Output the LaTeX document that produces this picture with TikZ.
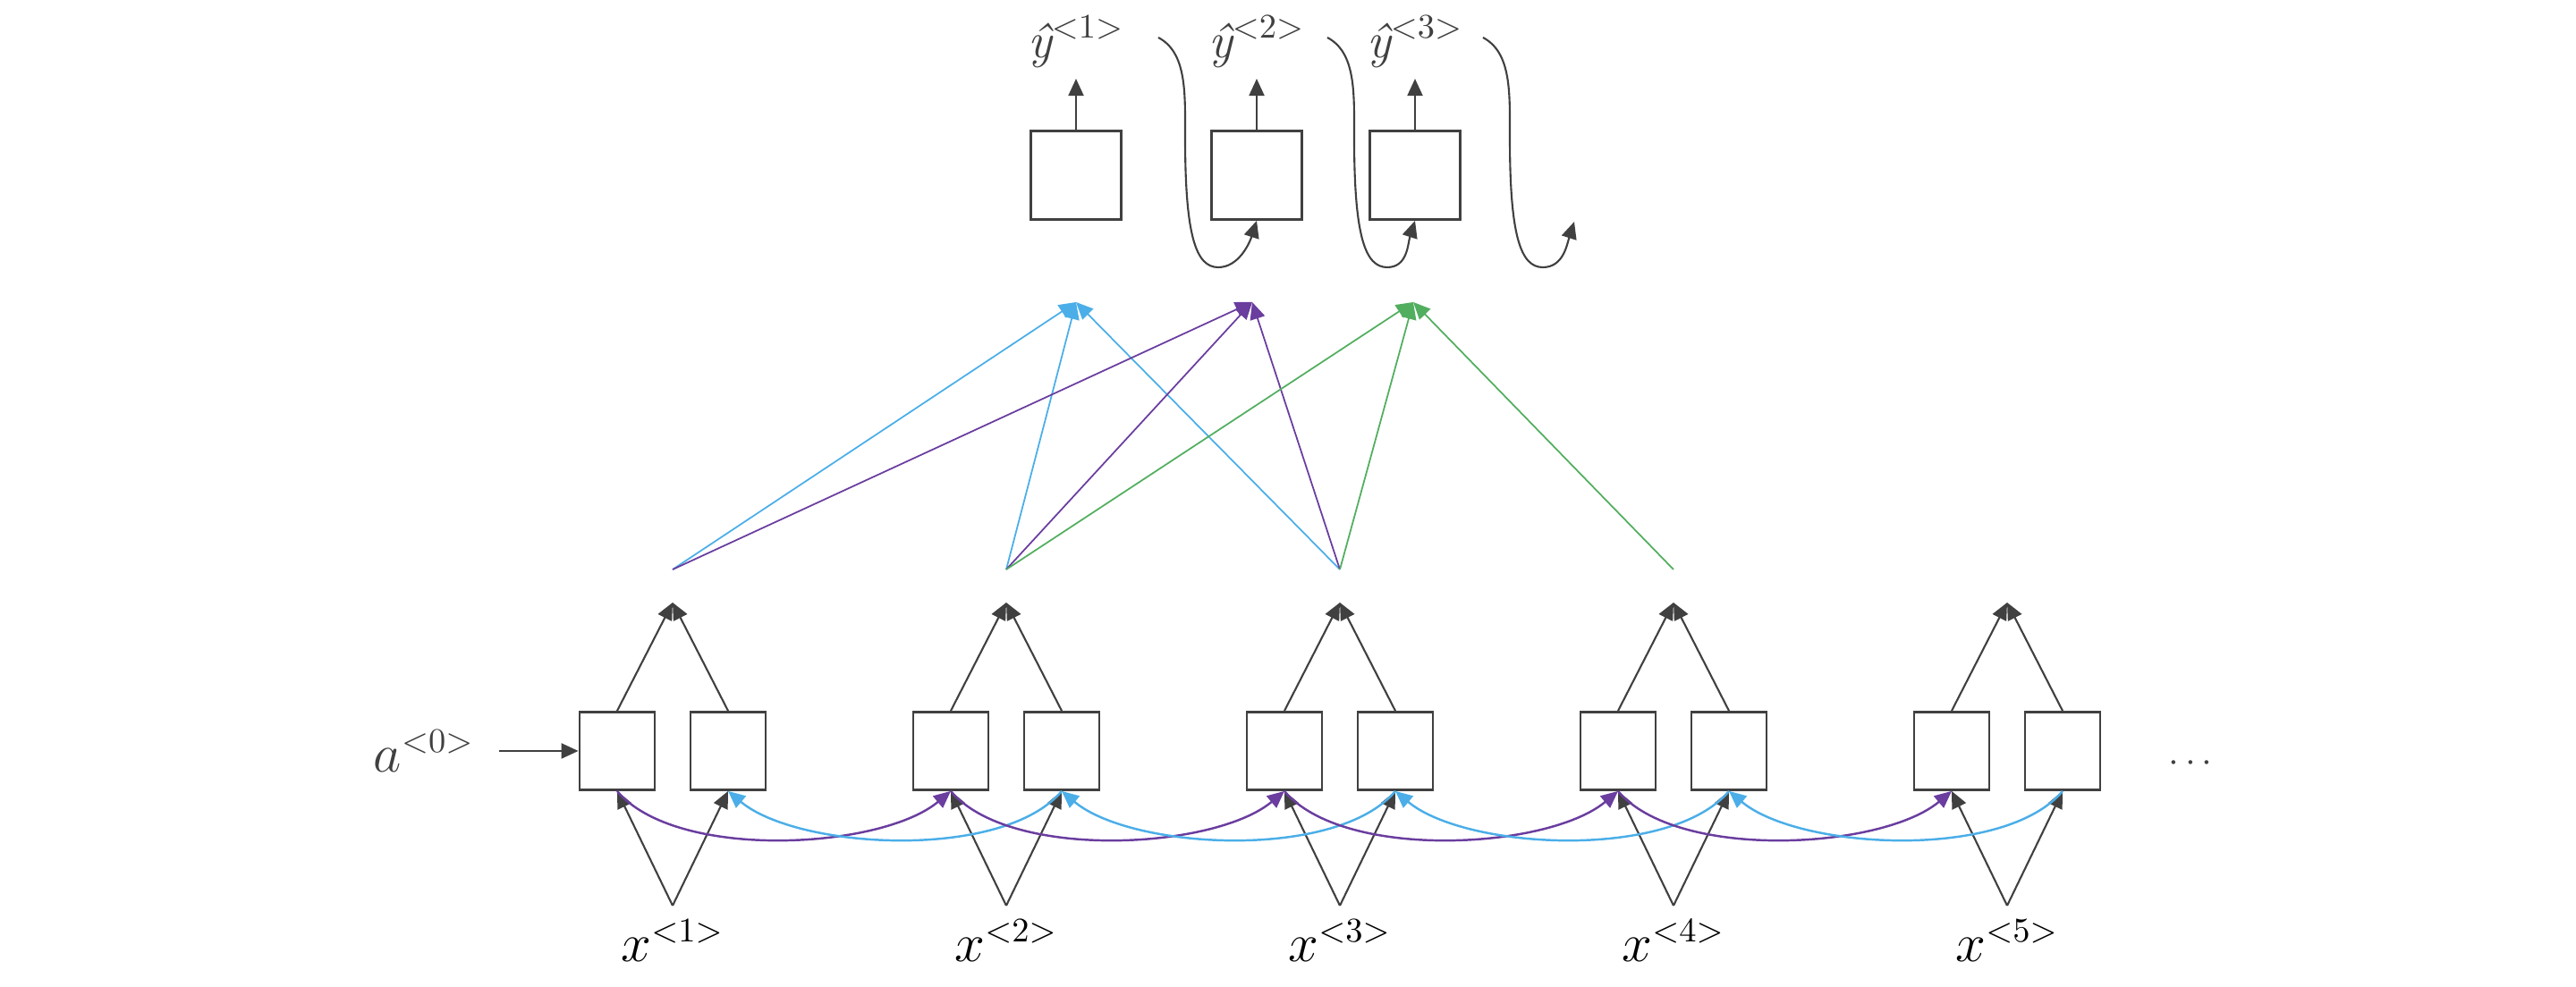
\documentclass[tikz,border=0pt]{standalone}
\usepackage{fontspec}
\usetikzlibrary{arrows.meta,calc}
\definecolor{lgray}{HTML}{404040}
\definecolor{cblue}{HTML}{4BAEE8}
\definecolor{cpurple}{HTML}{6A3D9F}
\definecolor{cgreen}{HTML}{52AE5F}
\begin{document}
\begin{tikzpicture}[>={Triangle[length=0.19cm,width=0.17cm]}, font=\fontsize{16}{19}\selectfont,
		cell/.style={draw=lgray, line width=0.8pt, minimum width=0.84cm, minimum height=0.87cm, inner sep=0pt},
		ocell/.style={cell, minimum width=1.01cm, minimum height=0.99cm},
		wire/.style={draw=lgray, line width=0.6pt},
		att/.style={line width=0.5pt, ->},
		rec/.style={line width=0.7pt, ->, looseness=0.7},
		lbl/.style={text=lgray}]
	\useasboundingbox (0,0) rectangle (28.8,11.04);
	
	% encoder: forward and backward cells
	\foreach \i in {1,...,5}{
		\pgfmathsetmacro{\cx}{7.52+3.73*(\i-1)}
		\node[cell] (L\i) at (\cx-0.62,2.64) {};
		\node[cell] (R\i) at (\cx+0.62,2.64) {};
		\coordinate (A\i) at (\cx,4.30);
		\coordinate (T\i) at (\cx,4.67);
		\coordinate (X\i) at (\cx,0.91);
		\node (x\i) at (\cx,0.52) {$x^{<\i>}$};
		\draw[wire,->] (X\i) -- (L\i.south);
		\draw[wire,->] (X\i) -- (R\i.south);
		\draw[wire,->] (L\i.north) -- (A\i);
		\draw[wire,->] (R\i.north) -- (A\i);
	}
	\foreach \i [count=\j from 2] in {1,...,4}{
		\draw[rec, cpurple] (L\i.south) to[out=-50, in=-140] (L\j.south);
		\draw[rec, cblue] (R\j.south) to[out=-130, in=-40] (R\i.south);
	}
	
	\node[lbl] (a0) at (4.74,2.64) {$a^{<0>}$};
	\draw[wire,->, shorten <=0.16cm] (a0.east) -- (L1.west);
	\node[lbl, font=\fontsize{12}{14}\selectfont] (dots) at (24.49,2.50) {$\cdots$};
	
	% attention
	\coordinate (c1) at (12.03,7.66);
	\coordinate (c2) at (14.00,7.66);
	\coordinate (c3) at (15.80,7.66);
	\foreach \i in {1,2,3} \draw[att, cblue] (T\i) -- (c1);
	\foreach \i in {1,2,3} \draw[att, cpurple] (T\i) -- (c2);
	\foreach \i in {2,3,4} \draw[att, cgreen] (T\i) -- (c3);
	
	% decoder
	\node[ocell] (O1) at (12.03,9.08) {};
	\node[ocell] (O2) at (14.05,9.08) {};
	\node[ocell] (O3) at (15.82,9.08) {};
	\foreach \i in {1,2,3}{
		\node[lbl, anchor=south] (Y\i) at ([yshift=0.57cm]O\i.north) {{\itshape ŷ}$^{<\i>}$};
		\draw[wire,->] (O\i.north) -- (O\i.north |- Y\i.south);
	}
	
	\coordinate (f1) at (12.95,10.62);
	\coordinate (f2) at (14.84,10.62);
	\coordinate (f3) at (16.58,10.62);
	\coordinate (e3) at (17.60,8.56);
	\foreach \a/\b in {f1/O2.south, f2/O3.south, f3/e3}
		\draw[wire,->] (\a) .. controls +(0.32,-0.17) and +(0,0.5) .. ($(\a)+(0.30,-1.12)$)
			.. controls +(0,-1.1) and +(-0.25,0) .. ($(\a)+(0.67,-2.57)$)
			.. controls +(0.23,0) and +(-0.08,-0.25) .. (\b);
\end{tikzpicture}
\end{document}
